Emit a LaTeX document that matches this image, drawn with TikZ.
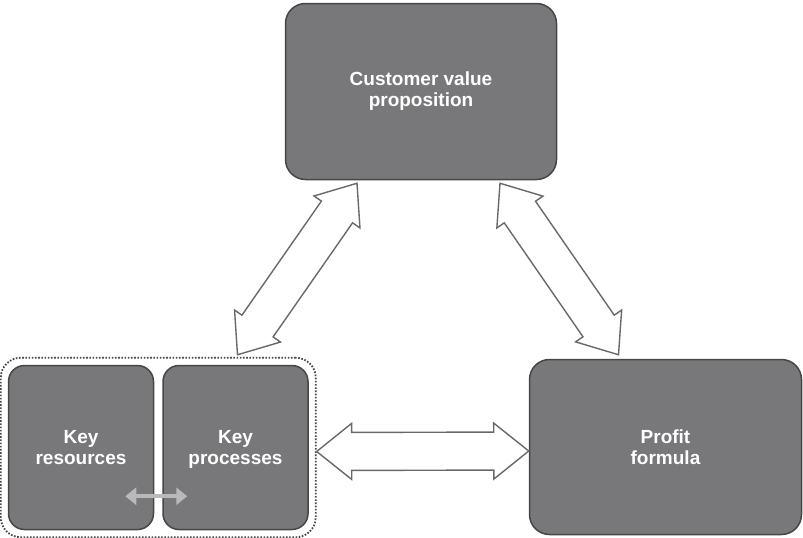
\documentclass[tikz,border=0pt]{standalone}
\usepackage{fontspec}
\setmainfont{Liberation Sans}
\usetikzlibrary{arrows.meta, positioning, calc, fit}

\definecolor{boxgray}{RGB}{120,120,123}
\definecolor{edgegray}{RGB}{70,70,72}
\definecolor{arrowgray}{RGB}{105,105,107}
\definecolor{lightarrow}{RGB}{185,185,188}

\begin{document}
\begin{tikzpicture}[
  x=1pt, y=-1pt,
  box/.style={rectangle, rounded corners=20pt, draw=edgegray, fill=boxgray, line width=1.5pt, text=white, align=center, font=\bfseries\fontsize{19}{21}\selectfont},
  keybox/.style={box, rounded corners=16pt, minimum width=145pt, minimum height=164pt, text depth=0pt},
  group/.style={rectangle, rounded corners=20pt, draw=edgegray, line width=1.8pt, dash pattern=on 1.6pt off 1.6pt, inner sep=7pt},
  blockarrow/.style={draw=arrowgray, fill=white, line width=1.4pt, line join=miter, to path={
    -- ($(\tikztostart)!35pt!(\tikztotarget)!28pt!90:(\tikztotarget)$)
    -- ($(\tikztostart)!35pt!(\tikztotarget)!19pt!90:(\tikztotarget)$)
    -- ($(\tikztotarget)!35pt!(\tikztostart)!19pt!-90:(\tikztostart)$)
    -- ($(\tikztotarget)!35pt!(\tikztostart)!28pt!-90:(\tikztostart)$)
    -- (\tikztotarget)
    -- ($(\tikztotarget)!35pt!(\tikztostart)!28pt!90:(\tikztostart)$)
    -- ($(\tikztotarget)!35pt!(\tikztostart)!19pt!90:(\tikztostart)$)
    -- ($(\tikztostart)!35pt!(\tikztotarget)!19pt!-90:(\tikztotarget)$)
    -- ($(\tikztostart)!35pt!(\tikztotarget)!28pt!-90:(\tikztotarget)$)
    -- cycle}},
  smallarrow/.style={{Triangle[length=11pt,width=17pt]}-{Triangle[length=11pt,width=17pt]}, draw=lightarrow, line width=4pt}
]
\useasboundingbox (0,0) rectangle (803,538);

% the three building blocks
\node[box, minimum width=271pt, minimum height=176pt] (cvp) at (421,91.5) {Customer value\\proposition};
\node[box, minimum width=272pt, minimum height=175pt] (profit) at (665.5,447) {Profit\\formula};
\node[keybox] (res) at (81,447.5) {Key\\resources};
\node[keybox, right=8pt of res] (proc) {Key\\processes};
\node[group, fit=(res)(proc)] (keys) {};

% arrow ends
\coordinate (cvp-l) at ([xshift=-64pt,yshift=-3pt]cvp.south);
\coordinate (cvp-r) at ([xshift=79pt,yshift=-3pt]cvp.south);
\coordinate (keys-t) at ([xshift=2pt,yshift=10pt]proc.north);
\coordinate (profit-t) at ([xshift=-47pt,yshift=4pt]profit.north);
\coordinate (keys-r) at ([yshift=-4pt]keys.east);
\coordinate (profit-l) at ([yshift=-4pt]profit.west);
\coordinate (res-a) at ([xshift=-29pt,yshift=34pt]res.south east);
\coordinate (proc-a) at ([xshift=25pt,yshift=34pt]proc.south west);

\draw[blockarrow] (keys-t) to (cvp-l);
\draw[blockarrow] (cvp-r) to (profit-t);
\draw[blockarrow] (keys-r) to (profit-l);
\draw[smallarrow] (res-a) -- (proc-a);

\end{tikzpicture}
\end{document}
